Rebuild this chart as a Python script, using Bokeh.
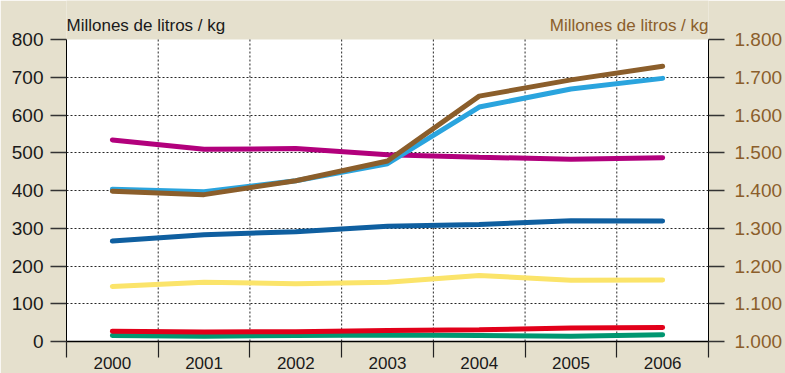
from bokeh.plotting import figure
from bokeh.models import Range1d, LinearAxis, FixedTicker, BoxAnnotation
from bokeh.core.properties import value
from bokeh.embed import file_html
from bokeh.resources import INLINE

# ---- data ----
years = [2000, 2001, 2002, 2003, 2004, 2005, 2006]
magenta = [534, 509, 511, 495, 488, 483, 487]
light_blue = [403, 397, 426, 471, 621, 669, 697]
brown_right = [1398, 1389, 1426, 1478, 1650, 1693, 1729]
dark_blue = [266, 283, 291, 305, 310, 320, 319]
yellow = [146, 157, 153, 157, 175, 162, 163]
red = [27, 25, 26, 29, 31, 36, 37]
green = [16, 14, 16, 17, 16, 14, 18]

left_ticks = [0, 100, 200, 300, 400, 500, 600, 700, 800]
right_ticks = [1000, 1100, 1200, 1300, 1400, 1500, 1600, 1700, 1800]
right_tick_labels = ["1.000", "1.100", "1.200", "1.300", "1.400", "1.500", "1.600", "1.700", "1.800"]
year_labels = ["2000", "2001", "2002", "2003", "2004", "2005", "2006"]
axis_title = "Millones de litros / kg"

BG = "#e5e0cd"
BROWN = "#8b5e2b"
FONT = "Liberation Sans"

# layout constants (pixels)
W, H = 785, 373
LEFT, RIGHT, BOTTOM = 66, 77, 32
PLOT_PX = 302               # pixel height of the 0..800 span
FRAME_PX = H - BOTTOM       # frame spans from the top of the canvas
y_lo, y_hi = left_ticks[0], left_ticks[-1]
y_top = y_lo + (y_hi - y_lo) * FRAME_PX / PLOT_PX
r_lo, r_hi = right_ticks[0], right_ticks[-1]
r_top = r_lo + (r_hi - r_lo) * FRAME_PX / PLOT_PX

x0, x1 = years[0] - 0.5, years[-1] + 0.5
half_years = [y - 0.5 for y in years] + [years[-1] + 0.5]

p = figure(width=W, height=H, output_backend="svg", toolbar_location=None,
           x_range=Range1d(x0, x1), y_range=Range1d(y_lo, y_top),
           min_border_left=LEFT, min_border_right=RIGHT, min_border_top=0, min_border_bottom=BOTTOM,
           background_fill_color=BG, border_fill_color=BG, outline_line_color=None)

p.extra_y_ranges = {"right": Range1d(r_lo, r_top)}

# white plotting area
p.add_layout(BoxAnnotation(left=x0, right=x1, bottom=y_lo, top=y_hi,
                           fill_color="white", fill_alpha=1, line_color=None, level="image"))

# left axis
la = p.left[0]
la.ticker = FixedTicker(ticks=left_ticks)
la.bounds = (y_lo, y_hi)
la.major_tick_out = 16
la.major_tick_in = 0
la.minor_tick_out = 0
la.major_tick_line_color = "#333333"
la.major_tick_line_width = 1.5
la.axis_line_color = "black"
la.major_label_text_font = FONT
la.major_label_text_font_size = "19px"
la.major_label_text_color = "#1a1a1a"
la.major_label_standoff = 7

# right axis
ra = LinearAxis(y_range_name="right", ticker=FixedTicker(ticks=right_ticks),
                major_label_overrides={t: s for t, s in zip(right_ticks, right_tick_labels)})
ra.bounds = (r_lo, r_hi)
ra.major_tick_out = 16
ra.major_tick_in = 0
ra.minor_tick_out = 0
ra.major_tick_line_color = "#333333"
ra.major_tick_line_width = 1.5
ra.axis_line_color = "black"
ra.major_label_text_font = FONT
ra.major_label_text_font_size = "19px"
ra.major_label_text_color = BROWN
ra.major_label_standoff = 10
p.add_layout(ra, "right")

# bottom axis: labels at years, tick marks between years (minor ticks)
ba = p.below[0]
ba.ticker = FixedTicker(ticks=years, minor_ticks=half_years)
ba.major_label_overrides = {y: s for y, s in zip(years, year_labels)}
ba.major_label_text_font = FONT
ba.major_label_text_font_size = "17px"
ba.major_label_text_color = "#1a1a1a"
ba.major_label_standoff = -1
ba.major_tick_out = 0
ba.major_tick_in = 0
ba.minor_tick_out = 16
ba.minor_tick_in = 0
ba.minor_tick_line_color = "#222222"
ba.minor_tick_line_width = 1.2
ba.axis_line_color = "black"
ba.axis_line_width = 1.5

# grids: horizontal via grid, vertical drawn only over the plotting area
p.xgrid.visible = False
p.ygrid.ticker = FixedTicker(ticks=left_ticks[1:-1])
p.ygrid.grid_line_color = "black"
p.ygrid.grid_line_dash = "2 2"
p.ygrid.grid_line_width = 1
p.ygrid.grid_line_alpha = 0.85
inner = half_years[1:-1]
p.segment(x0=inner, x1=inner, y0=[y_lo] * len(inner), y1=[y_hi] * len(inner),
          line_color="black", line_dash="2 2", line_width=1, line_alpha=0.85, level="underlay")

# lines
lw = 5
p.line(years, green, line_color="#009670", line_width=lw, line_cap="round")
p.line(years, red, line_color="#e2001a", line_width=lw, line_cap="round")
p.line(years, yellow, line_color="#fbe46a", line_width=lw, line_cap="round")
p.line(years, dark_blue, line_color="#0f5fa0", line_width=lw, line_cap="round")
p.line(years, magenta, line_color="#b2007c", line_width=lw, line_cap="round")
p.line(years, light_blue, line_color="#2aa4de", line_width=lw, line_cap="round")
p.line(years, brown_right, y_range_name="right", line_color=BROWN, line_width=lw, line_cap="round")

# axis titles (inside the extended frame, above the plotting area)
title_y = y_lo + (y_hi - y_lo) * (PLOT_PX + 14) / PLOT_PX
p.text(x=[x0], y=[title_y], text=[axis_title], text_align="left", text_baseline="alphabetic",
       text_font=value(FONT), text_font_size="17px", text_color="#1a1a1a")
p.text(x=[x1], y=[title_y], text=[axis_title], text_align="right", text_baseline="alphabetic",
       text_font=value(FONT), text_font_size="17px", text_color=BROWN)

html = file_html(p, INLINE)
open("out.html", "w").write(html)
